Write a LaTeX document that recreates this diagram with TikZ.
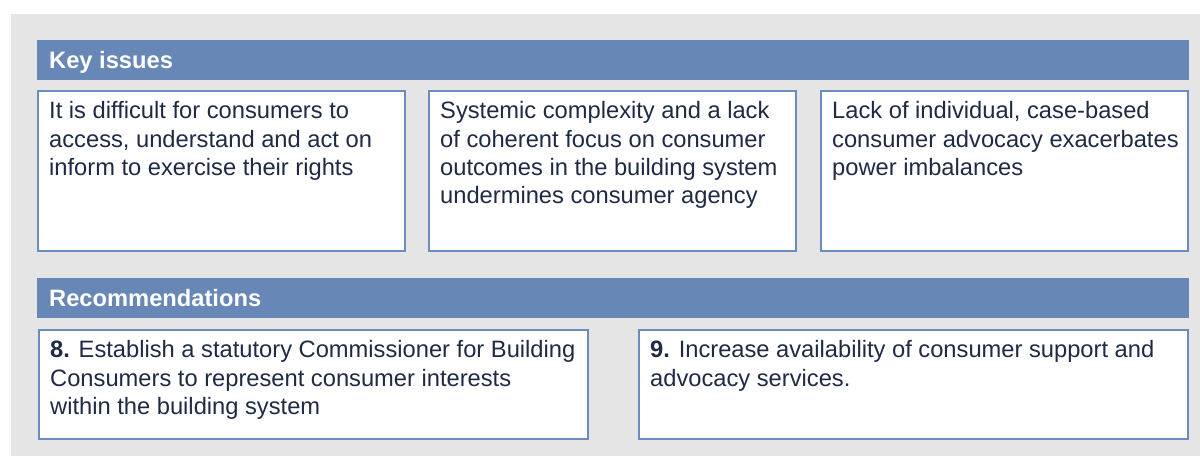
\documentclass[tikz,border=0pt]{standalone}
\usepackage{fontspec}
\setmainfont{Liberation Sans}
\definecolor{bgGray}{HTML}{E5E5E5}
\definecolor{barBlue}{HTML}{6787B7}
\definecolor{edgeBlue}{HTML}{6C8CC0}
\definecolor{ink}{HTML}{1F2A44}
\newcommand\mylines[1]{\begin{tabular}[t]{@{}l@{}}#1\end{tabular}}
\begin{document}
\begin{tikzpicture}[x=1bp,y=-1bp,
  headbar/.style={fill=barBlue, draw=none, anchor=north west, minimum width=1152bp, minimum height=40bp, inner sep=0pt},
  headtext/.style={font=\bfseries\fontsize{23.7bp}{28bp}\selectfont, text=white, inner sep=0pt, anchor=base west, xshift=12bp, yshift=-28.5bp},
  issuebox/.style={draw=edgeBlue, line width=2bp, fill=white, anchor=north west, minimum width=367bp, minimum height=160bp, inner sep=0pt},
  recbox/.style={draw=edgeBlue, line width=2bp, fill=white, anchor=north west, minimum width=549bp, minimum height=109bp, inner sep=0pt},
  boxtext/.style={font=\fontsize{23.7bp}{28.2bp}\selectfont, text=ink, inner sep=0pt, anchor=base west, xshift=12bp, yshift=-29bp}
]
\useasboundingbox (0,0) rectangle (1200,456);
\fill[white] (0,0) rectangle (1200,456);
\fill[bgGray] (11,14) rectangle (1200,456);

% Key issues
\node[headbar] (kbar) at (37,40) {};
\node[headtext] (ktitle) at (kbar.north west) {Key issues};

\node[issuebox] (k1) at (37,90) {};
\node[boxtext] (k1t) at (k1.north west) {\mylines{It is difficult for consumers to\\access, understand and act on\\inform to exercise their rights}};

\node[issuebox] (k2) at (428,90) {};
\node[boxtext] (k2t) at (k2.north west) {\mylines{Systemic complexity and a lack\\of coherent focus on consumer\\outcomes in the building system\\undermines consumer agency}};

\node[issuebox] (k3) at (820,90) {};
\node[boxtext] (k3t) at (k3.north west) {\mylines{Lack of individual, case-based\\consumer advocacy exacerbates\\power imbalances}};

% Recommendations
\node[headbar] (rbar) at (37,278) {};
\node[headtext] (rtitle) at (rbar.north west) {Recommendations};

\node[recbox] (r8) at (38,329) {};
\node[boxtext] (r8t) at (r8.north west) {\mylines{\textbf{8.} Establish a statutory Commissioner for Building\\Consumers to represent consumer interests\\within the building system}};

\node[recbox] (r9) at (638,329) {};
\node[boxtext] (r9t) at (r9.north west) {\mylines{\textbf{9.} Increase availability of consumer support and\\advocacy services.}};
\end{tikzpicture}
\end{document}
